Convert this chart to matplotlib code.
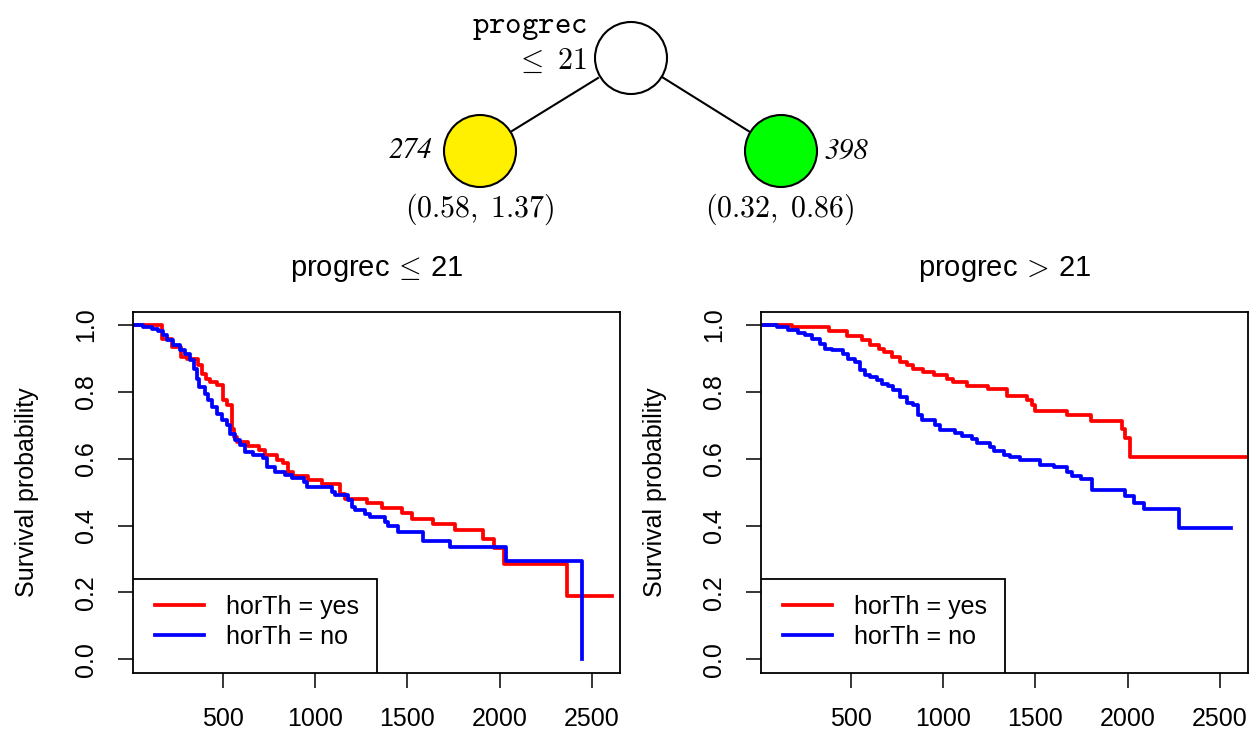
import numpy as np
import matplotlib
matplotlib.use("Agg")
from matplotlib import pyplot as plt
from matplotlib.patches import Circle, Rectangle

plt.rcParams['font.family'] = ['Liberation Sans', 'DejaVu Sans']
plt.rcParams['mathtext.fontset'] = 'cm'

# Kaplan-Meier curves (time, survival)
left_yes_t = [0, 170, 224, 274, 305, 363, 386, 410, 431, 467, 503, 525, 549, 558, 576,
              639, 698, 729, 792, 828, 855, 882, 964, 1036, 1135, 1163, 1280, 1361,
              1470, 1524, 1641, 1758, 1912, 1970, 2024, 2364, 2607]
left_yes_s = [1.0, 0.957, 0.934, 0.904, 0.897, 0.880, 0.855, 0.840, 0.830, 0.822, 0.775,
              0.760, 0.690, 0.665, 0.650, 0.638, 0.626, 0.611, 0.596, 0.586, 0.561,
              0.548, 0.536, 0.524, 0.496, 0.481, 0.468, 0.454, 0.438, 0.421, 0.406,
              0.386, 0.359, 0.332, 0.284, 0.189, 0.189]

left_no_t = [0, 70, 115, 151, 175, 197, 232, 269, 296, 323, 345, 359, 373, 404, 422, 440,
             467, 494, 522, 540, 567, 594, 621, 666, 720, 738, 783, 837, 874, 937, 955,
             1090, 1108, 1180, 1199, 1217, 1271, 1298, 1379, 1397, 1451, 1583, 1728,
             2035, 2448, 2448]
left_no_s = [1.0, 0.994, 0.989, 0.981, 0.969, 0.954, 0.939, 0.924, 0.912, 0.895, 0.870,
             0.840, 0.815, 0.795, 0.775, 0.755, 0.735, 0.715, 0.700, 0.675, 0.655, 0.640,
             0.620, 0.611, 0.601, 0.576, 0.561, 0.551, 0.541, 0.531, 0.516, 0.501, 0.491,
             0.476, 0.456, 0.446, 0.436, 0.426, 0.411, 0.398, 0.381, 0.354, 0.337, 0.294,
             0.0, 0.0]

right_yes_t = [0, 180, 379, 478, 560, 605, 650, 677, 722, 767, 803, 839, 893, 948, 1020,
               1056, 1128, 1245, 1345, 1453, 1480, 1498, 1673, 1800, 1971, 1986, 2013, 2700]
right_yes_s = [1.0, 0.994, 0.981, 0.967, 0.954, 0.941, 0.929, 0.919, 0.904, 0.891, 0.880,
               0.870, 0.860, 0.850, 0.840, 0.830, 0.818, 0.808, 0.787, 0.775, 0.760, 0.743,
               0.730, 0.713, 0.690, 0.663, 0.604, 0.604]

right_no_t = [0, 99, 162, 216, 252, 289, 334, 361, 397, 460, 487, 523, 550, 577, 605, 641,
              668, 704, 731, 767, 803, 839, 866, 885, 957, 984, 1065, 1101, 1155, 1183,
              1255, 1273, 1327, 1363, 1417, 1525, 1598, 1673, 1697, 1746, 1805, 1986,
              2035, 2089, 2280, 2559]
right_no_s = [1.0, 0.994, 0.984, 0.977, 0.969, 0.957, 0.944, 0.929, 0.926, 0.914, 0.899,
              0.889, 0.865, 0.852, 0.845, 0.835, 0.825, 0.818, 0.805, 0.785, 0.768, 0.760,
              0.730, 0.715, 0.700, 0.685, 0.678, 0.668, 0.658, 0.647, 0.634, 0.624, 0.611,
              0.604, 0.596, 0.581, 0.574, 0.561, 0.548, 0.539, 0.506, 0.488, 0.469, 0.449,
              0.393, 0.393]

titles = [r'progrec$\,\leq\,$21', r'progrec$\,>\,$21']
leg_labels = ['horTh = yes', 'horTh = no']
x_ticks = [500, 1000, 1500, 2000, 2500]
y_ticks = [0.0, 0.2, 0.4, 0.6, 0.8, 1.0]

node_n = ['274', '398']
node_ci = ['(0.58, 1.37)', '(0.32, 0.86)']

fig = plt.figure(figsize=(12.56, 7.36), dpi=100)

# tree on top, drawn in pixel coordinates
tree = fig.add_axes([0, 0, 1, 1], zorder=0)
tree.set_xlim(0, 1256)
tree.set_ylim(736, 0)
tree.axis('off')
tree.plot([598, 512], [78, 131], color='black', lw=1.5)
tree.plot([662, 750], [77, 132], color='black', lw=1.5)
tree.add_patch(Circle((631, 58), 36, facecolor='white', edgecolor='black', lw=1.5))
tree.add_patch(Circle((480, 151), 36, facecolor='#FFF000', edgecolor='black', lw=1.5))
tree.add_patch(Circle((781, 151), 36, facecolor='#00FF00', edgecolor='black', lw=1.5))
tree.text(587, 27, r'$\mathtt{progrec}$', fontsize=22.5, ha='right', va='center')
tree.text(587, 61, r'$\leq\ 21$', fontsize=21.5, ha='right', va='center')
tree.text(433, 151, node_n[0], fontsize=21, family='STIXGeneral', style='italic',
          ha='right', va='center')
tree.text(825, 151, node_n[1], fontsize=21, family='STIXGeneral', style='italic',
          ha='left', va='center')
tree.text(480, 209, '$' + node_ci[0].replace(' ', r'\;') + '$', fontsize=21.5,
          ha='center', va='center')
tree.text(780, 209, '$' + node_ci[1].replace(' ', r'\;') + '$', fontsize=21.5,
          ha='center', va='center')

panels = [
    (0.1057, left_yes_t, left_yes_s, left_no_t, left_no_s),
    (0.6057, right_yes_t, right_yes_s, right_no_t, right_no_s),
]

for i, (x0, yt, ys, nt, ns) in enumerate(panels):
    ax = fig.add_axes([x0, 0.0860, 0.388, 0.4905], zorder=1)
    ax.step(yt, ys, where='post', color='#FF0000', lw=2.7, label=leg_labels[0])
    ax.step(nt, ns, where='post', color='#0000FF', lw=2.7, label=leg_labels[1])
    ax.set_xlim(12, 2652)
    ax.set_ylim(-0.04, 1.04)
    ax.set_xticks(x_ticks)
    ax.set_yticks(y_ticks)
    ax.set_yticklabels(['%.1f' % v for v in y_ticks], rotation=90, va='center')
    ax.tick_params(direction='out', length=11, width=1.1, labelsize=18, pad=14)
    for s in ax.spines.values():
        s.set_linewidth(1.3)
    ax.set_ylabel('Survival probability', fontsize=18, labelpad=25)
    ax.set_title(titles[i], fontsize=21, pad=26)
    ax.add_patch(Rectangle((0, 0), 0.502, 0.2596, transform=ax.transAxes,
                           facecolor='white', edgecolor='black', lw=1.3, zorder=3))
    ax.legend(loc='upper left', bbox_to_anchor=(0.01, 0.265), frameon=False,
              fontsize=18, handlelength=1.95, handletextpad=0.9, labelspacing=0.25,
              borderaxespad=0.3).set_zorder(4)

fig.savefig('out.png', dpi=100)
